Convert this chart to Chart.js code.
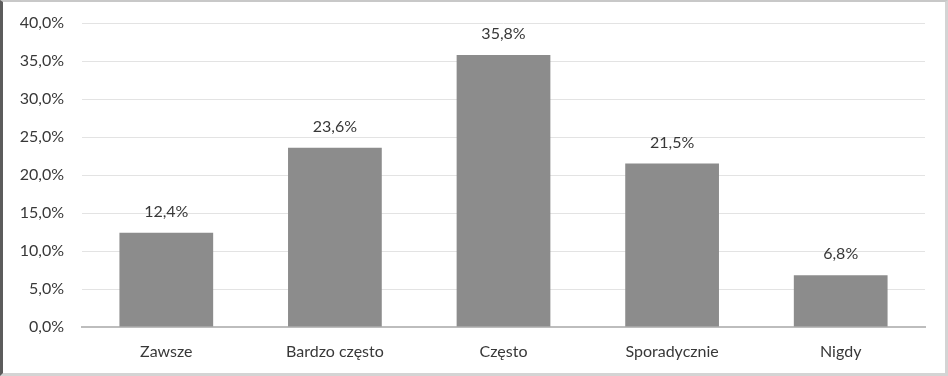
<!DOCTYPE html>
<html>
<head>
<meta charset="utf-8">
<script src="https://cdn.jsdelivr.net/npm/chart.js@4"></script>
<style>
  html, body { margin: 0; padding: 0; background: #fff; }
  #box {
    position: relative;
    width: 948px; height: 376px;
    box-sizing: border-box;
    border-left: 3px solid #5c5c5c;
    border-top: 2px solid #c8c8c8;
    border-right: 3px solid #d4d4d4;
    border-bottom: 3px solid #d4d4d4;
  }
  #chart { position: absolute; left: -3px; top: -2px; }
</style>
</head>
<body>
<div id="box"><canvas id="chart" width="948" height="376"></canvas></div>
<script>
// answer categories and share of responses (%)
let categories = ['Zawsze', 'Bardzo często', 'Często', 'Sporadycznie', 'Nigdy'];
let values = [12.4, 23.6, 35.8, 21.5, 6.8];
let yTicks = [0, 5, 10, 15, 20, 25, 30, 35, 40];

const fmt = (v) => v.toFixed(1).replace('.', ',') + '%';

// draws the value above each bar
const barLabels = {
  id: 'barLabels',
  afterDatasetsDraw(chart) {
    let ctx = chart.ctx;
    let meta = chart.getDatasetMeta(0);
    ctx.save();
    ctx.font = '16px Lato';
    ctx.fillStyle = '#383838';
    ctx.textAlign = 'center';
    ctx.textBaseline = 'middle';
    meta.data.forEach((bar, i) => {
      ctx.fillText(fmt(values[i]), bar.x, bar.y - 21);
    });
    ctx.restore();
  }
};

new Chart(document.getElementById('chart'), {
  type: 'bar',
  data: {
    labels: categories,
    datasets: [{
      data: values,
      backgroundColor: '#8c8c8c',
      categoryPercentage: 1,
      barPercentage: 0.556,
    }],
  },
  options: {
    responsive: false,
    animation: false,
    layout: { padding: { top: 23, right: 23, left: 0, bottom: 0 } },
    plugins: { legend: { display: false }, tooltip: { enabled: false } },
    scales: {
      x: {
        grid: { display: false, drawTicks: false },
        border: { color: '#bdbdbd', width: 2 },
        ticks: { color: '#383838', font: { family: 'Lato', size: 16 }, padding: 15 },
        afterFit: (s) => { s.height = 49; s.paddingLeft = 0; s.paddingRight = 0; },
      },
      y: {
        min: 0, max: 40,
        afterBuildTicks: (s) => { s.ticks = yTicks.map((v) => ({ value: v })); },
        grid: { color: '#e3e3e3', drawTicks: false },
        border: { display: false },
        ticks: { color: '#383838', font: { family: 'Lato', size: 16 }, padding: 18, callback: (v) => fmt(v) },
        afterFit: (s) => { s.width = 82; s.paddingTop = 0; s.paddingBottom = 0; },
      },
    },
  },
  plugins: [barLabels],
});
</script>
</body>
</html>
